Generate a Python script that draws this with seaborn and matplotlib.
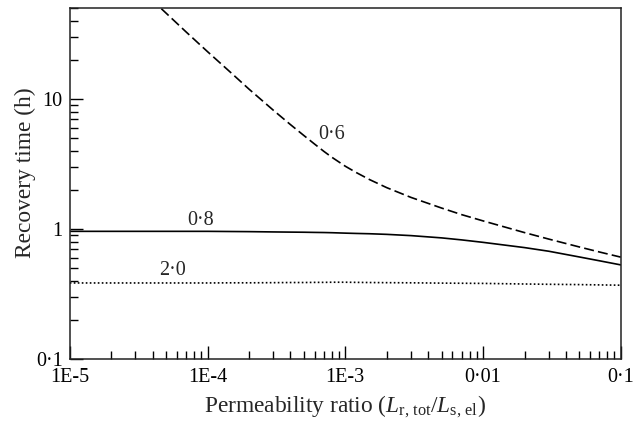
import numpy as np
import pandas as pd
import seaborn as sns
import matplotlib.pyplot as plt
from matplotlib.ticker import LogLocator, NullFormatter, FixedLocator, FixedFormatter

# permeability ratio sample points
ratio = [1e-5, 2e-5, 3e-5, 4e-5, 5e-5, 7e-5, 1e-4, 1.5e-4, 2e-4, 3e-4, 4e-4, 5e-4,
         6e-4, 7e-4, 8e-4, 1e-3, 1.2e-3, 1.5e-3, 2e-3, 3e-3, 5e-3, 7e-3, 1e-2,
         2e-2, 3e-2, 5e-2, 7e-2, 1e-1]

# recovery time (h) for each curve
t_06 = [np.nan, np.nan, 76.0, 57.0, 45.7, 32.7, 23.1, 15.7, 11.9, 8.2, 6.35, 5.24,
        4.49, 3.95, 3.56, 3.04, 2.72, 2.40, 2.08, 1.75, 1.45, 1.29, 1.155,
        0.939, 0.837, 0.728, 0.666, 0.608]
t_08 = [0.96, 0.96, 0.96, 0.96, 0.96, 0.96, 0.96, 0.957, 0.955, 0.95, 0.947, 0.945,
        0.942, 0.94, 0.937, 0.93, 0.925, 0.92, 0.91, 0.89, 0.855, 0.825, 0.79,
        0.72, 0.675, 0.61, 0.57, 0.53]
t_20 = [0.385, 0.385, 0.385, 0.385, 0.385, 0.385, 0.385, 0.386, 0.386, 0.387, 0.388, 0.388,
        0.389, 0.389, 0.39, 0.39, 0.389, 0.388, 0.387, 0.386, 0.384, 0.383, 0.382,
        0.378, 0.376, 0.374, 0.372, 0.37]

curve_labels = ["0·6", "0·8", "2·0"]
x_ticks = [1e-5, 1e-4, 1e-3, 1e-2, 1e-1]
x_ticklabels = ["1E-5", "1E-4", "1E-3", "0·01", "0·1"]
y_ticks = [0.1, 1, 10]
y_ticklabels = ["0·1", "1", "10"]

df = pd.DataFrame({
    "ratio": ratio * 3,
    "time": t_06 + t_08 + t_20,
    "curve": [c for c in curve_labels for _ in ratio],
})

sns.set_style("ticks")
plt.rcParams["font.family"] = ["Liberation Serif", "DejaVu Serif"]
plt.rcParams["mathtext.fontset"] = "custom"
plt.rcParams["mathtext.rm"] = "Liberation Serif"
plt.rcParams["mathtext.it"] = "Liberation Serif:italic"

fig = plt.figure(figsize=(6.4, 4.22), dpi=100)
ax = fig.add_axes([0.109, 0.149, 0.861, 0.832])

styles = {"0·6": (0, (6, 2.5)), "0·8": "-", "2·0": (0, (1, 1.4))}
for c in curve_labels:
    sub = df[df["curve"] == c].dropna()
    sns.lineplot(data=sub, x="ratio", y="time", ax=ax, color="black",
                 linewidth=1.2, linestyle=styles[c], legend=False)

ax.set_xscale("log")
ax.set_yscale("log")
ax.set_xlim(1e-5, 0.1)
ax.set_ylim(0.1, 50)

ax.xaxis.set_major_locator(FixedLocator(x_ticks))
ax.xaxis.set_major_formatter(FixedFormatter(x_ticklabels))
ax.yaxis.set_major_locator(FixedLocator(y_ticks))
ax.yaxis.set_major_formatter(FixedFormatter(y_ticklabels))
ax.xaxis.set_minor_locator(LogLocator(base=10, subs=np.arange(2, 10)))
ax.yaxis.set_minor_locator(LogLocator(base=10, subs=np.arange(2, 10)))
ax.xaxis.set_minor_formatter(NullFormatter())
ax.yaxis.set_minor_formatter(NullFormatter())

ax.tick_params(which="both", direction="in", top=False, right=False,
               colors="black", width=1.0, labelsize=14.5)
ax.tick_params(which="major", length=9.5)
ax.tick_params(which="minor", length=5.5)
ax.tick_params(axis="y", which="major", pad=5)
ax.tick_params(axis="x", which="major", pad=6.5)
for s in ax.spines.values():
    s.set_linewidth(1.1)
    s.set_color("#222222")

ax.set_xlabel(r"Permeability ratio ($\mathit{L}_{\mathrm{r,\,tot}}/\mathit{L}_{\mathrm{s,\,el}}$)",
              fontsize=16.8, labelpad=5)
ax.set_ylabel("Recovery time (h)", fontsize=16.8)
ax.yaxis.set_label_coords(-0.062, 0.531)

ax.text(7.9e-4, 5.3, "0·6", fontsize=14.5, ha="center", va="center")
ax.text(8.9e-5, 1.17, "0·8", fontsize=14.5, ha="center", va="center")
ax.text(5.6e-5, 0.48, "2·0", fontsize=14.5, ha="center", va="center")

fig.savefig("out.png", dpi=100)
